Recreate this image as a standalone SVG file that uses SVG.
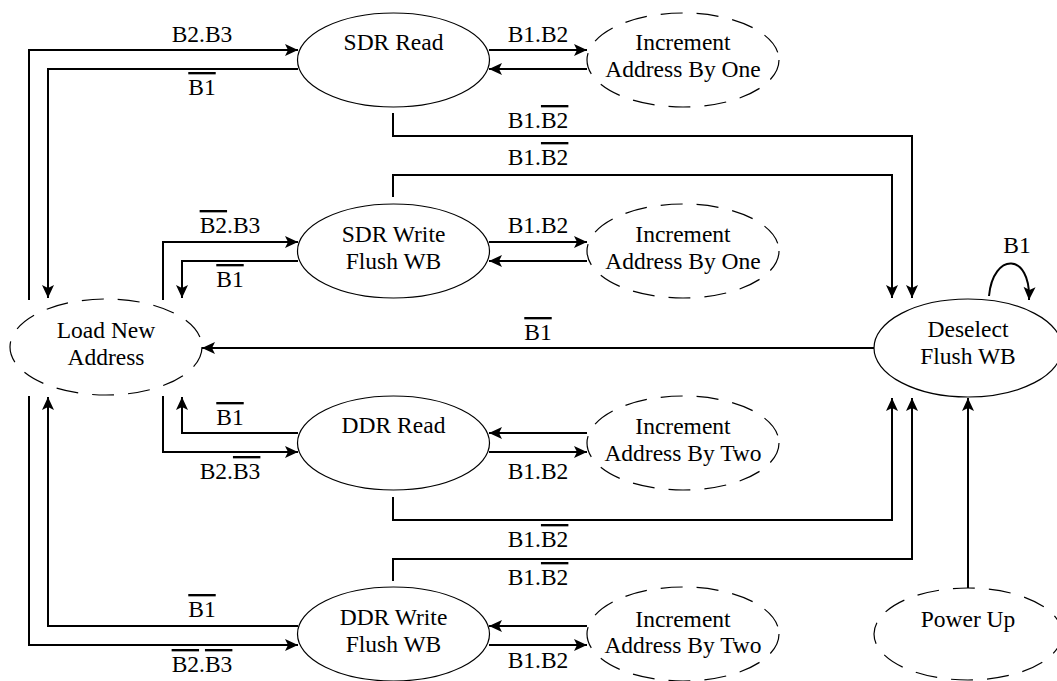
<svg xmlns="http://www.w3.org/2000/svg" width="1057" height="681" viewBox="0 0 1057 681">
<defs>
<marker id="ah" viewBox="-14 -7 15 14" refX="0" refY="0" markerWidth="15" markerHeight="14" markerUnits="userSpaceOnUse" orient="auto">
<path d="M0,0 L-13,-6 L-10,0 L-13,6 Z" fill="#000"/>
</marker>
<style>
.st{fill:#fff;stroke:#000;stroke-width:1.2}
.ds{fill:#fff;stroke:#000;stroke-width:1.2;stroke-dasharray:22 14}
.c{fill:none;stroke:#000;stroke-width:2}
.a{marker-end:url(#ah)}
.o{text-decoration:overline}
.t{font-family:'Liberation Serif',serif;font-size:23.5px;text-anchor:middle;fill:#000}
</style>
</defs>
<rect width="1057" height="681" fill="#fff"/>
<g id="connectors">
<path class="c a" d="M29,300 V50 H298"/>
<path class="c a" d="M298,69 H48 V298"/>
<path class="c a" d="M489,50 H587"/>
<path class="c a" d="M587,69 H489"/>
<path class="c a" d="M393,113 V136 H912 V298"/>
<path class="c a" d="M393,197 V175 H892 V298"/>
<path class="c a" d="M163,300 V242 H298"/>
<path class="c a" d="M298,261 H182 V298"/>
<path class="c a" d="M874,348 H202"/>
<path class="c a" d="M489,242 H587"/>
<path class="c a" d="M587,261 H489"/>
<path class="c a" d="M298,433 H182 V397"/>
<path class="c a" d="M163,396 V452 H298"/>
<path class="c a" d="M587,433 H489"/>
<path class="c a" d="M489,452 H587"/>
<path class="c a" d="M393,497 V520 H892 V398"/>
<path class="c a" d="M393,581 V559 H912 V398"/>
<path class="c a" d="M29,396 V645 H298"/>
<path class="c a" d="M298,626 H48 V397"/>
<path class="c a" d="M587,626 H489"/>
<path class="c a" d="M489,645 H587"/>
<path class="c a" d="M968,588 V398"/>
<path class="c a" d="M989,296 C993,252 1031,252 1029,300"/>
<g class="t">
<text x="202" y="42">B2.B3</text>
<text x="202" y="95"><tspan class="o">B1</tspan></text>
<text x="538" y="42">B1.B2</text>
<text x="538" y="128">B1.<tspan class="o">B2</tspan></text>
<text x="538" y="165">B1.<tspan class="o">B2</tspan></text>
<text x="230" y="233"><tspan class="o">B2</tspan>.B3</text>
<text x="230" y="287"><tspan class="o">B1</tspan></text>
<text x="538" y="233">B1.B2</text>
<text x="538" y="340"><tspan class="o">B1</tspan></text>
<text x="1017" y="253">B1</text>
<text x="230" y="425"><tspan class="o">B1</tspan></text>
<text x="230" y="479">B2.<tspan class="o">B3</tspan></text>
<text x="538" y="479">B1.B2</text>
<text x="538" y="547">B1.<tspan class="o">B2</tspan></text>
<text x="538" y="585">B1.<tspan class="o">B2</tspan></text>
<text x="202" y="617"><tspan class="o">B1</tspan></text>
<text x="202" y="672"><tspan class="o">B2</tspan>.<tspan class="o">B3</tspan></text>
<text x="538" y="668">B1.B2</text>
</g>
</g>
<g id="sdr-read" class="t">
<ellipse class="st" cx="393.5" cy="60" rx="96" ry="47"/>
<text x="393.5" y="50">SDR Read</text>
</g>
<g id="inc-one-a" class="t">
<ellipse class="ds" cx="683" cy="60" rx="96" ry="47"/>
<text x="683" y="50">Increment</text>
<text x="683" y="77">Address By One</text>
</g>
<g id="sdr-write" class="t">
<ellipse class="st" cx="393.5" cy="251" rx="96" ry="47"/>
<text x="393.5" y="242">SDR Write</text>
<text x="393.5" y="269">Flush WB</text>
</g>
<g id="inc-one-b" class="t">
<ellipse class="ds" cx="683" cy="251" rx="96" ry="47"/>
<text x="683" y="242">Increment</text>
<text x="683" y="269">Address By One</text>
</g>
<g id="load-new-address" class="t">
<ellipse class="ds" cx="106" cy="347" rx="96" ry="48"/>
<text x="106" y="338">Load New</text>
<text x="106" y="365">Address</text>
</g>
<g id="deselect" class="t">
<ellipse class="st" cx="968" cy="348" rx="94" ry="49"/>
<text x="968" y="337">Deselect</text>
<text x="968" y="364">Flush WB</text>
</g>
<g id="ddr-read" class="t">
<ellipse class="st" cx="393.5" cy="443" rx="96" ry="47"/>
<text x="393.5" y="433">DDR Read</text>
</g>
<g id="inc-two-a" class="t">
<ellipse class="ds" cx="683" cy="443" rx="96" ry="47"/>
<text x="683" y="434">Increment</text>
<text x="683" y="461">Address By Two</text>
</g>
<g id="ddr-write" class="t">
<ellipse class="st" cx="393.5" cy="634" rx="96" ry="47"/>
<text x="393.5" y="625">DDR Write</text>
<text x="393.5" y="652">Flush WB</text>
</g>
<g id="inc-two-b" class="t">
<ellipse class="ds" cx="683" cy="634" rx="96" ry="47"/>
<text x="683" y="627">Increment</text>
<text x="683" y="653">Address By Two</text>
</g>
<g id="power-up" class="t">
<ellipse class="ds" cx="968" cy="634" rx="94" ry="46"/>
<text x="968" y="627">Power Up</text>
</g>
</svg>
